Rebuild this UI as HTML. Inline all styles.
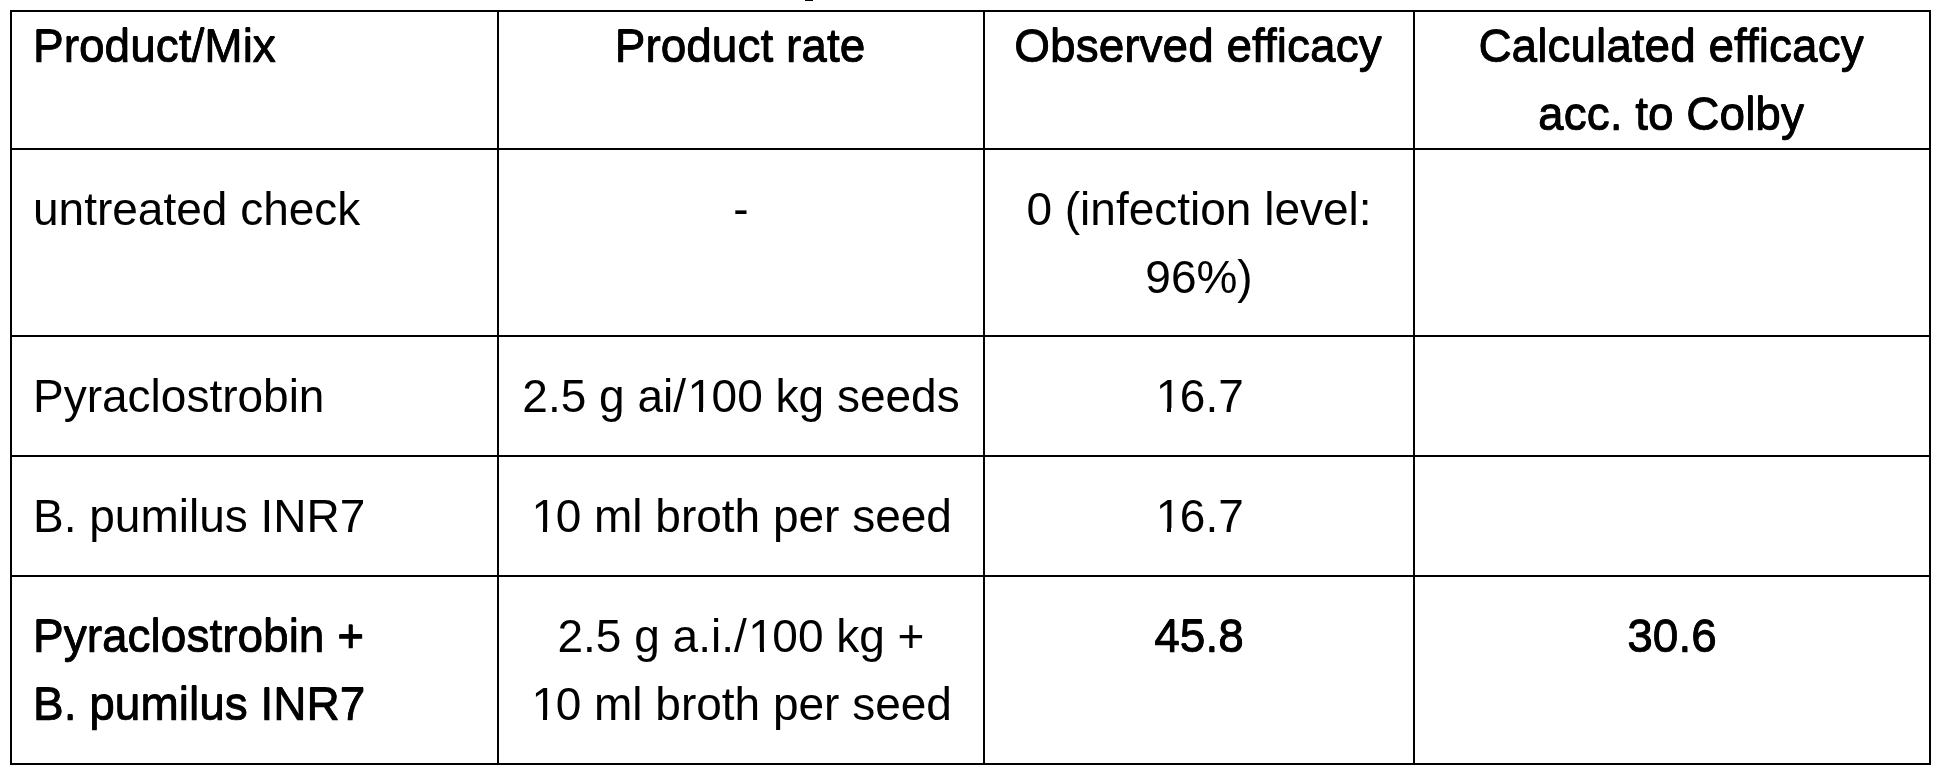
<!DOCTYPE html>
<html>
<head>
<meta charset="utf-8">
<style>
html, body { margin:0; padding:0; background:#fff; }
body { width:1942px; height:776px; position:relative; overflow:hidden;
  font-family:"Liberation Sans", Arial, sans-serif; font-size:46px; color:#000; }
.h { position:absolute; height:2px; background:#000; }
.v { position:absolute; width:2px; background:#000; }
.t { position:absolute; line-height:68px; white-space:nowrap; will-change:transform; }
.c { text-align:center; }
.o { position:relative; left:1.5px; }
.o::before, .o::after { content:""; position:absolute; background:#fff; top:37.6px; height:5px; }
.o::before { left:2.6px; width:8.8px; }
.o::after { left:15.5px; width:8.7px; }
.b { -webkit-text-stroke:0.7px #000; text-shadow:0 -0.6px 0 #000; }
</style>
</head>
<body>
<div class="h" style="left:805px;top:0;width:8px;height:1px"></div>

<div class="h" style="left:10px;top:10px;width:1921px"></div>
<div class="h" style="left:10px;top:148px;width:1921px"></div>
<div class="h" style="left:10px;top:335px;width:1921px"></div>
<div class="h" style="left:10px;top:455px;width:1921px"></div>
<div class="h" style="left:10px;top:575px;width:1921px"></div>
<div class="h" style="left:10px;top:763px;width:1921px"></div>

<div class="v" style="left:10px;top:10px;height:755px"></div>
<div class="v" style="left:497px;top:10px;height:755px"></div>
<div class="v" style="left:983px;top:10px;height:755px"></div>
<div class="v" style="left:1413px;top:10px;height:755px"></div>
<div class="v" style="left:1929px;top:10px;height:755px"></div>

<!-- header -->
<div class="t b" style="left:33px;top:12px">Product/Mix</div>
<div class="t c b" style="left:498px;width:484px;top:12px">Product rate</div>
<div class="t c b" style="left:984px;width:428px;top:12px">Observed efficacy</div>
<div class="t c b" style="left:1414px;width:514px;top:12px">Calculated efficacy<br>acc. to Colby</div>

<!-- row 1 -->
<div class="t" style="left:33px;top:175px">untreated check</div>
<div class="t c" style="left:499px;width:484px;top:175px">-</div>
<div class="t c" style="left:985px;width:428px;top:175px">0 (infection level:<br>96%)</div>

<!-- row 2 -->
<div class="t" style="left:33px;top:362px">Pyraclostrobin</div>
<div class="t c" style="left:499px;width:484px;top:362px">2.5 g ai/<span class="o">1</span>00 kg seeds</div>
<div class="t c" style="left:985px;width:428px;top:362px"><span class="o">1</span>6.7</div>

<!-- row 3 -->
<div class="t" style="left:33px;top:482px">B. pumilus INR7</div>
<div class="t c" style="left:499px;width:484px;top:482px"><span class="o">1</span>0 ml broth per seed</div>
<div class="t c" style="left:985px;width:428px;top:482px"><span class="o">1</span>6.7</div>

<!-- row 4 -->
<div class="t b" style="left:33px;top:602px">Pyraclostrobin +<br>B. pumilus INR7</div>
<div class="t c" style="left:499px;width:484px;top:602px">2.5 g a.i./<span class="o">1</span>00 kg +<br><span class="o">1</span>0 ml broth per seed</div>
<div class="t c b" style="left:985px;width:428px;top:602px">45.8</div>
<div class="t c b" style="left:1415px;width:514px;top:602px">30.6</div>
</body>
</html>
